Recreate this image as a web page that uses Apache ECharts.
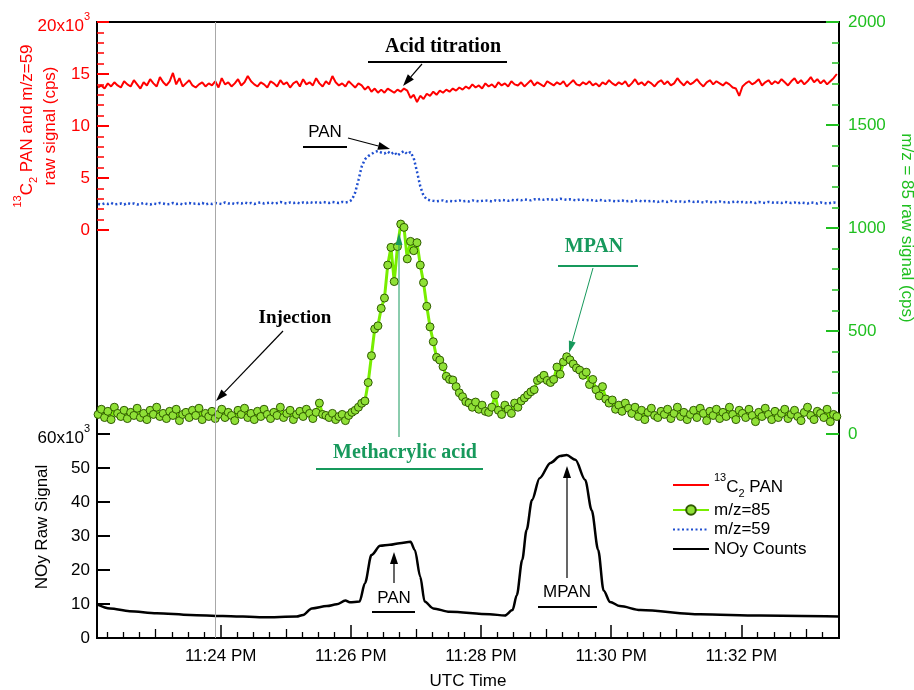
<!DOCTYPE html>
<html><head><meta charset="utf-8">
<script src="https://cdn.jsdelivr.net/npm/echarts@6/dist/echarts.min.js"></script>
<style>html,body{margin:0;padding:0;background:#fff}#c{width:914px;height:690px}</style>
</head><body><div id="c"></div>
<script>
// time in seconds after 11:00 PM (UTC)
const timeSec = [
1327,1330,1333,1336,1339,1342,1345,1348,1351,1354,
1357,1360,1363,1366,1369,1372,1375,1378,1381,1384,
1387,1390,1393,1396,1399,1402,1405,1408,1411,1414,
1417,1420,1423,1426,1429,1432,1435,1438,1441,1444,
1447,1450,1453,1456,1459,1462,1465,1468,1471,1474,
1477,1480,1483,1486,1489,1492,1495,1498,1501,1504,
1507,1510,1513,1516,1519,1522,1525,1528,1531,1534,
1537,1540,1543,1546,1549,1552,1555,1558,1561,1564,
1567,1570,1573,1576,1579,1582,1585,1588,1591,1594,
1597,1600,1603,1606,1609,1612,1615,1618,1621,1624,
1627,1630,1633,1636,1639,1642,1645,1648,1651,1654,
1657,1660,1663,1666,1669,1672,1675,1678,1681,1684,
1687,1690,1693,1696,1699,1702,1705,1708,1711,1714,
1717,1720,1723,1726,1729,1732,1735,1738,1741,1744,
1747,1750,1753,1756,1759,1762,1765,1768,1771,1774,
1777,1780,1783,1786,1789,1792,1795,1798,1801,1804,
1807,1810,1813,1816,1819,1822,1825,1828,1831,1834,
1837,1840,1843,1846,1849,1852,1855,1858,1861,1864,
1867,1870,1873,1876,1879,1882,1885,1888,1891,1894,
1897,1900,1903,1906,1909,1912,1915,1918,1921,1924,
1927,1930,1933,1936,1939,1942,1945,1948,1951,1954,
1957,1960,1963,1966,1969,1972,1975,1978,1981,1984,
1987,1990,1993,1996,1999,2002,2005,2008];

// 13C2 PAN raw signal (cps)
const pan13 = [
13700,13900,13600,14100,13800,14200,13900,13700,14300,14000,
13800,14400,14000,13600,14200,13900,14500,14100,13800,14700,
14200,13900,14300,15100,14000,14600,13800,14100,14400,13900,
13700,14000,14200,13800,14100,13900,14300,13700,14600,14000,
14200,13800,14100,14500,13900,14200,14800,14300,14000,13800,
14200,14000,13700,14300,14100,13800,14400,14000,14200,13700,
14100,14300,13800,14500,14000,14200,13900,14600,14100,13800,
14300,14000,14800,14200,13900,14100,13800,14300,14000,13700,
14100,13900,13500,13800,13300,13600,13200,13500,13200,13600,
13400,13200,13500,13300,13600,13400,12700,13000,12300,12900,
12600,13100,12900,13300,13000,13400,13200,13500,13300,13600,
13400,13700,13500,13800,13600,14000,13700,13900,13600,14100,
13800,14000,13700,14200,13900,14100,13800,14300,14000,13900,
14200,13800,14100,14400,13900,14200,14000,13800,14300,14100,
13900,14200,14000,14300,13800,14100,14400,14000,13900,14200,
14000,14300,13900,14100,13800,14200,14000,14400,14100,13900,
14200,14000,14300,13800,14100,14500,14000,14200,13900,14300,
14100,13800,14200,14400,14000,14300,13900,14100,14600,14200,
13900,14300,14000,14200,14500,14100,13800,14200,14400,14000,
14300,14100,13900,14200,14000,13700,13600,12900,13800,14100,
14300,14000,14200,14500,13900,14200,14400,14000,14300,14100,
14500,14200,13900,14300,14600,14100,14400,14000,14300,14700,
14200,14500,14100,14400,14000,14300,14600,15000];

// m/z=85 raw signal (cps)
const mz85 = [
95,120,80,110,70,130,100,85,115,75,
105,90,125,80,100,70,115,95,130,85,
100,75,110,90,120,65,95,105,80,115,
90,125,70,100,85,110,75,95,120,80,
105,90,65,115,95,125,80,100,70,110,
85,120,95,75,105,90,130,80,100,115,
70,95,110,85,120,100,75,105,150,95,
90,80,100,70,85,95,65,90,105,115,
130,149,160,250,380,510,525,610,660,820,
906,740,910,1019,1003,850,935,890,929,820,
735,620,520,448,372,359,327,280,265,262,
230,200,181,157,150,130,155,120,140,110,
105,130,190,115,95,140,120,100,150,130,
160,175,190,205,215,260,270,285,260,250,
265,325,290,350,375,360,340,320,310,285,
300,240,265,215,185,230,170,150,165,120,
140,110,150,125,100,130,85,115,70,105,
125,90,80,110,95,120,75,100,130,85,
105,70,95,115,80,125,100,65,110,90,
120,75,105,85,130,95,70,115,100,80,
120,90,60,105,85,125,95,70,110,80,
100,120,75,95,115,85,65,105,130,90,
70,110,100,80,120,60,95,85];

// m/z=59 raw signal (cps)
const mz59 = [
2500,2450,2550,2500,2600,2450,2500,2550,2450,2600,
2500,2550,2450,2500,2600,2500,2450,2550,2500,2600,
2550,2450,2500,2600,2500,2550,2450,2550,2600,2500,
2550,2500,2600,2450,2550,2500,2600,2550,2500,2650,
2550,2600,2500,2600,2550,2650,2550,2600,2500,2600,
2650,2550,2600,2650,2550,2600,2700,2600,2550,2650,
2600,2650,2550,2650,2600,2700,2600,2650,2600,2700,
2650,2600,2700,2650,2600,2700,2650,2700,2900,3600,
4800,6100,6800,7100,7300,7500,7600,7450,7350,7550,
7300,7500,7150,7400,7600,7300,7500,6900,5600,4200,
3300,2950,2850,2800,2750,2800,2850,2750,2800,2750,
2800,2850,2750,2800,2750,2850,2800,2750,2800,2850,
2800,2750,2850,2800,2900,2850,2800,2900,2850,2900,
2850,2950,2900,2850,2950,2900,3000,2900,2950,2900,
2950,2900,3000,2950,2900,2950,2900,2850,2950,2900,
2850,2900,2850,2800,2900,2850,2800,2850,2800,2750,
2800,2850,2750,2800,2750,2800,2850,2750,2800,2750,
2800,2750,2700,2800,2750,2700,2800,2750,2700,2750,
2700,2750,2800,2700,2750,2700,2650,2750,2700,2650,
2700,2750,2650,2700,2650,2700,2750,2650,2700,2650,
2700,2650,2600,2700,2650,2600,2700,2650,2600,2650,
2600,2700,2650,2600,2650,2550,2650,2600,2550,2650,
2600,2550,2650,2600,2550,2600,2650,2600];

// NOy counts
const noyTime = [1326,1338,1356,1381,1412,1442,1479,1510,1516,1524,1538,1547,1555,1559,1568,1573,1579,1587,1596,1605,1615,1619,1624,1628,1636,1651,1688,1702,1709,1713,1718,1722,1727,1734,1744,1753,1759,1767,1776,1782,1788,1793,1799,1808,1827,1882,1937,2010];
const noyCounts = [9900,8700,7900,7300,6800,6500,6100,6300,6800,8700,9400,9900,11000,10500,10700,16100,24400,27100,27400,27900,28300,25900,18000,10700,8700,7700,7000,6600,8200,12600,23000,31800,40600,47000,51500,53500,53800,52400,46500,37600,25900,14000,10600,9400,8200,7000,6600,6300];

const xMin = 1326, xMax = 2010;
const majorTickValues = [1440,1560,1680,1800,1920];
const majorTickLabels = ['11:24 PM','11:26 PM','11:28 PM','11:30 PM','11:32 PM'];
const minuteTickValues = [1380,1500,1620,1740,1860,1980];
const injectionTime = 1435;

const minorTickValues = [];
for (let v = 1335; v < xMax; v += 15) if (v % 60 !== 0) minorTickValues.push(v);

const SANS = '"Liberation Sans", Arial, sans-serif';
const SERIF = '"Liberation Serif", "Times New Roman", serif';
const RED = '#ff0000', GAX = '#1fbf1f', TEAL = '#17995c', BLUE = '#1f4fd0';

// rich styles for tick label with superscript exponent
function tickRich(color){
  return {
    bt:{fontSize:17,lineHeight:17,fontFamily:SANS,color:color,verticalAlign:'bottom'},
    n:{fontSize:17,lineHeight:17,fontFamily:SANS,color:color},
    s:{fontSize:11,lineHeight:25,fontFamily:SANS,color:color,verticalAlign:'top',padding:[2,0,0,0]}
  };
}
// rich styles for text containing 13C2 (superscript + subscript)
function chemRich(color){
  return {
    b:{fontSize:17,lineHeight:17,fontFamily:SANS,color:color,verticalAlign:'bottom',padding:[0,0,3,0]},
    n:{fontSize:17,lineHeight:17,fontFamily:SANS,color:color},
    n2:{fontSize:17,lineHeight:23,fontFamily:SANS,color:color},
    s:{fontSize:11,lineHeight:28,fontFamily:SANS,color:color,verticalAlign:'top',padding:[1,0,0,0]},
    d:{fontSize:11,lineHeight:11,fontFamily:SANS,color:color,verticalAlign:'bottom'}
  };
}
const zip = (a,b) => a.map((t,i)=>[t,b[i]]);
const hiddenX = g => ({gridIndex:g,type:'value',min:xMin,max:xMax,show:false});
const gridBase = {left:97,right:75,outerBoundsMode:'none'};

function arrow(x1,y1,x2,y2,color,w,hl,hw){
  const a = Math.atan2(y2-y1,x2-x1);
  const bx = x2-hl*Math.cos(a), by = y2-hl*Math.sin(a);
  const px = -Math.sin(a)*hw/2, py = Math.cos(a)*hw/2;
  return [
    {type:'line',z:100,shape:{x1:x1,y1:y1,x2:bx,y2:by},style:{stroke:color,lineWidth:w}},
    {type:'polygon',z:100,shape:{points:[[x2,y2],[bx+px,by+py],[bx-px,by-py]]},style:{fill:color}}
  ];
}
function txt(t,x,y,font,color){
  return {type:'text',z:100,x:x,y:y,style:{text:t,font:font,fill:color,align:'center',verticalAlign:'middle'}};
}
function hline(x1,x2,y,color){
  return {type:'line',z:100,shape:{x1:x1,y1:y,x2:x2,y2:y},style:{stroke:color,lineWidth:2}};
}
const BS = 'bold 20px ' + SERIF, NS = '17px ' + SANS;
const graphics = [].concat(
  [txt('Acid titration',443,47,BS,'#000'), hline(368,507,62,'#000')], arrow(422,64,403,86,'#000',1.2,12,8),
  [txt('PAN',325,132,NS,'#000'), hline(303,347,147,'#000')], arrow(348,138,390,149,'#000',1.2,12,8),
  [txt('MPAN',594,247,BS,TEAL), hline(558,638,266,TEAL)], arrow(593,268,569,353,TEAL,1,12,7),
  [txt('Methacrylic acid',405,453,BS,TEAL), hline(316,483,469,TEAL)], arrow(399,437,399,233,TEAL,1,12,7),
  [txt('Injection',295,318,'bold 19px '+SERIF,'#000')], arrow(283,331,216,401,'#000',1.2,12,8),
  [txt('PAN',394,598,NS,'#000'), hline(372,415,612,'#000')], arrow(394,583,394,552,'#000',1.2,12,8),
  [txt('MPAN',567,592,NS,'#000'), hline(538,597,607,'#000')], arrow(567,578,567,466,'#000',1.2,12,8)
);

const noSym = {opacity:0};
const chart = echarts.init(document.getElementById('c'), null, {renderer:'canvas'});
chart.setOption({
  animation:false,
  backgroundColor:'#fff',
  grid:[
    Object.assign({top:22,bottom:52,show:true,borderColor:'#000',borderWidth:2,backgroundColor:'transparent'},gridBase),
    Object.assign({top:22,height:208},gridBase),
    Object.assign({top:22,height:412},gridBase),
    Object.assign({top:434,height:204},gridBase)
  ],
  xAxis:[
    {gridIndex:0,type:'value',min:xMin,max:xMax,position:'bottom',
     axisLine:{show:true,onZero:false,lineStyle:{color:'#000',width:2}},
     axisTick:{show:true,inside:true,length:6,customValues:minorTickValues,lineStyle:{color:'#000',width:1.3}},
     axisLabel:{show:false},splitLine:{show:false}},
    {gridIndex:0,type:'value',min:xMin,max:xMax,position:'bottom',
     axisLine:{show:false,onZero:false},
     axisTick:{show:true,inside:true,length:9,customValues:minuteTickValues,lineStyle:{color:'#000',width:1.3}},
     axisLabel:{show:false},splitLine:{show:false}},
    {gridIndex:0,type:'value',min:xMin,max:xMax,position:'bottom',
     axisLine:{show:false,onZero:false},
     axisTick:{show:true,inside:true,length:13,customValues:majorTickValues,lineStyle:{color:'#000',width:1.5}},
     axisLabel:{show:true,customValues:majorTickValues,margin:10,fontSize:17,fontFamily:SANS,color:'#000',
       formatter:v=>majorTickLabels[majorTickValues.indexOf(v)]},
     splitLine:{show:false},
     name:'UTC Time',nameLocation:'middle',nameGap:35,nameMoveOverlap:false,
     nameTextStyle:{fontSize:17,fontFamily:SANS,color:'#000'}},
    hiddenX(1), hiddenX(2), hiddenX(3)
  ],
  yAxis:[
    {gridIndex:0,type:'value',min:0,max:1,show:false},
    {gridIndex:1,type:'value',min:0,max:20000,interval:5000,position:'left',
     axisLine:{show:false},
     axisTick:{show:true,inside:true,length:12,lineStyle:{color:RED,width:2}},
     minorTick:{show:true,splitNumber:5,length:7,lineStyle:{color:RED,width:1.5}},
     axisLabel:{margin:7,fontSize:17,fontFamily:SANS,color:RED,rich:tickRich(RED),
       formatter:v=>v===20000?'{bt|20x10}{s|3}':'{n|'+(v/1000)+'}'},
     splitLine:{show:false},
     name:'{s|13}{b|C}{d|2}{b| PAN and m/z=59}\n{n2|raw signal (cps)}',
     nameLocation:'middle',nameGap:35,nameRotate:90,nameMoveOverlap:false,
     nameTextStyle:{color:RED,fontSize:17,fontFamily:SANS,rich:chemRich(RED)}},
    {gridIndex:2,type:'value',min:0,max:2000,interval:500,position:'right',
     axisLine:{show:false},
     axisTick:{show:true,inside:true,length:13,lineStyle:{color:GAX,width:2}},
     minorTick:{show:true,splitNumber:5,length:7,lineStyle:{color:GAX,width:1.5}},
     axisLabel:{margin:9,fontSize:17,fontFamily:SANS,color:GAX,formatter:v=>String(v)},
     splitLine:{show:false},
     name:'m/z = 85 raw signal (cps)',nameLocation:'middle',nameGap:59,nameRotate:-90,nameMoveOverlap:false,
     nameTextStyle:{color:GAX,fontSize:17,fontFamily:SANS}},
    {gridIndex:3,type:'value',min:0,max:60000,interval:10000,position:'left',
     axisLine:{show:false},
     axisTick:{show:true,inside:true,length:13,lineStyle:{color:'#000',width:2}},
     axisLabel:{margin:7,fontSize:17,fontFamily:SANS,color:'#000',rich:tickRich('#000'),
       formatter:v=>v===60000?'{bt|60x10}{s|3}':'{n|'+(v/1000)+'}'},
     splitLine:{show:false},
     name:'NOy Raw Signal',nameLocation:'middle',nameGap:46,nameRotate:90,nameMoveOverlap:false,
     nameTextStyle:{color:'#000',fontSize:17,fontFamily:SANS,padding:[0,0,0,18]}}
  ],
  legend:{
    data:[{name:'13C2 PAN',itemStyle:noSym},'m/z=85',{name:'m/z=59',itemStyle:noSym},{name:'NOy Counts',itemStyle:noSym}],
    orient:'vertical',left:667,top:466,itemWidth:36,itemHeight:12,itemGap:2.5,
    selectedMode:false,
    textStyle:{fontSize:17,fontFamily:SANS,color:'#000',rich:chemRich('#000')},
    formatter:n=>n==='13C2 PAN'?'{s|13}{b|C}{d|2}{b| PAN}':'{n|'+n+'}'
  },
  series:[
    {name:'13C2 PAN',type:'line',xAxisIndex:3,yAxisIndex:1,data:zip(timeSec,pan13),symbol:'none',
     lineStyle:{color:RED,width:2},itemStyle:{color:RED},z:3},
    {name:'m/z=85',type:'line',xAxisIndex:4,yAxisIndex:2,data:zip(timeSec,mz85),symbol:'circle',symbolSize:8,
     showSymbol:true,showAllSymbol:true,
     lineStyle:{color:'#78ee00',width:3},itemStyle:{color:'#8fe036',borderColor:'#2f5a00',borderWidth:1},z:4},
    {name:'m/z=59',type:'line',xAxisIndex:3,yAxisIndex:1,data:zip(timeSec,mz59),symbol:'none',
     lineStyle:{color:BLUE,width:2.5,type:[2,2.5]},itemStyle:{color:BLUE},z:3},
    {name:'NOy Counts',type:'line',xAxisIndex:5,yAxisIndex:3,data:zip(noyTime,noyCounts),symbol:'none',
     smooth:0.3,smoothMonotone:'x',lineStyle:{color:'#000',width:2.5},itemStyle:{color:'#000'},z:3},
    {name:'injection',type:'line',xAxisIndex:0,yAxisIndex:0,data:[[injectionTime,0.5]],symbol:'none',
     lineStyle:{opacity:0},silent:true,
     markLine:{silent:true,symbol:'none',label:{show:false},lineStyle:{color:'#a8a8a8',width:1,type:'solid'},
       data:[{xAxis:injectionTime}]}}
  ],
  graphic:graphics
});
</script>
</body></html>
